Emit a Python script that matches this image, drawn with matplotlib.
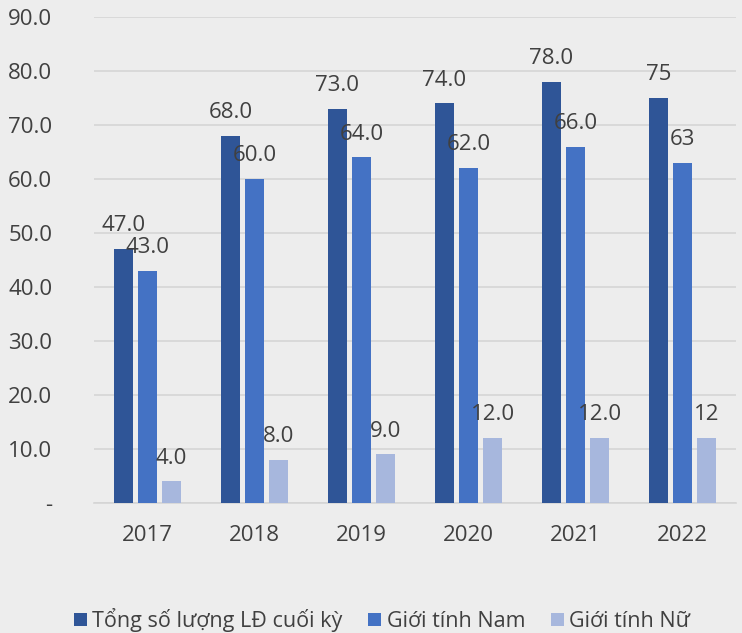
import matplotlib.pyplot as plt
import numpy as np

years = ["2017", "2018", "2019", "2020", "2021", "2022"]
total = [47.0, 68.0, 73.0, 74.0, 78.0, 75]
male = [43.0, 60.0, 64.0, 62.0, 66.0, 63]
female = [4.0, 8.0, 9.0, 12.0, 12.0, 12]
total_labels = ["47.0", "68.0", "73.0", "74.0", "78.0", "75"]
male_labels = ["43.0", "60.0", "64.0", "62.0", "66.0", "63"]
female_labels = ["4.0", "8.0", "9.0", "12.0", "12.0", "12"]
series_names = ["Tổng số lượng LĐ cuối kỳ", "Giới tính Nam", "Giới tính Nữ"]
colors = ["#2F5597", "#4472C4", "#A7B7DD"]
yticks = [0, 10, 20, 30, 40, 50, 60, 70, 80, 90]
ytick_labels = ["-", "10.0", "20.0", "30.0", "40.0", "50.0", "60.0", "70.0", "80.0", "90.0"]

plt.rcParams["font.family"] = ["Open Sans", "DejaVu Sans"]
bg = "#EDEDED"
fs = 16
fig = plt.figure(figsize=(7.42, 6.33), dpi=100, facecolor=bg)
ax = fig.add_axes([94 / 742, 1 - 503 / 633, 642 / 742, 486 / 633])
ax.set_facecolor(bg)

x = np.arange(len(years))
w = 0.18
offs = [-0.225, 0, 0.225]
text_color = "#404040"
for vals, labs, off, c, name in zip([total, male, female],
                                     [total_labels, male_labels, female_labels],
                                     offs, colors, series_names):
    bars = ax.bar(x + off, vals, w, color=c, label=name, zorder=3)
    for b, lab in zip(bars, labs):
        ax.text(b.get_x() + b.get_width() / 2, b.get_height() + 3.3, lab,
                ha="center", va="baseline", fontsize=fs, color=text_color, zorder=4)

ax.set_xlim(-0.5, len(years) - 0.5)
ax.set_ylim(0, 90)
ax.set_yticks(yticks)
ax.set_yticklabels(ytick_labels)
ax.set_xticks(x)
ax.set_xticklabels(years)
ax.yaxis.grid(True, color="#D5D5D5", linewidth=1.2, zorder=0)
ax.set_axisbelow(True)
for s in ["top", "right", "left"]:
    ax.spines[s].set_visible(False)
ax.spines["bottom"].set_color("#D5D5D5")
ax.spines["bottom"].set_linewidth(1.2)
ax.tick_params(axis="both", length=0, labelsize=fs, colors=text_color)
ax.tick_params(axis="y", pad=30)
ax.tick_params(axis="x", pad=16)

leg = fig.legend(loc="center", bbox_to_anchor=(0.515, 1 - 620 / 633), ncol=3,
                 frameon=False, fontsize=15.5, handlelength=0.6, handleheight=0.6,
                 handletextpad=0.25, columnspacing=1.2)
for t in leg.get_texts():
    t.set_color(text_color)

fig.savefig("out.png", dpi=100, facecolor=bg)
